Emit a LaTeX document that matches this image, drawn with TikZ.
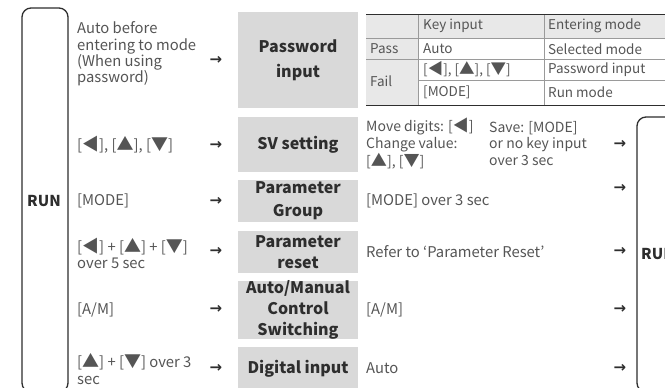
\documentclass[tikz,border=0pt]{standalone}
\usepackage{fontspec}
\setmainfont{Noto Sans CJK KR}
\newfontfamily\arrf{DejaVu Sans}
\newcommand\kL{\scalebox{1.15}{◀}}
\newcommand\kU{\scalebox{1.15}{▲}}
\newcommand\kD{\scalebox{1.15}{▼}}
\definecolor{txt}{HTML}{555555}
\definecolor{dark}{HTML}{2E2E2E}
\definecolor{boxg}{HTML}{D9D9D9}
\definecolor{cellg}{HTML}{E8E8E8}
\definecolor{rulec}{HTML}{9A9A9A}
\begin{document}
\begin{tikzpicture}[x=1pt,y=-1pt,
  body/.style={font=\fontsize{14.8}{16.2}\selectfont, text=txt, inner sep=0pt, align=left},
  tbl/.style={body, font=\fontsize{13.5}{16}\selectfont},
  sml/.style={body, font=\fontsize{14}{16.5}\selectfont},
  gbox/.style={fill=boxg, minimum width=120pt, inner sep=0pt, align=center, text=dark,
    font=\bfseries\fontsize{16}{21}\selectfont},
  arr/.style={font=\arrf\bfseries\fontsize{15}{16}\selectfont, text=dark, inner sep=0pt},
  runbox/.style={draw=dark, line width=1.3pt, rounded corners=9pt, inner sep=0pt},
  runlbl/.style={font=\bfseries\fontsize{15}{18}\selectfont, text=dark, inner sep=0pt},
  toprule/.style={draw=dark, line width=1pt},
  midrule/.style={draw=rulec, line width=0.8pt}]
\useasboundingbox (0,0) rectangle (665,388);
\clip (0,0) rectangle (665,388);
\fill[white] (0,0) rectangle (665,388);

% RUN boxes
\node[runbox, minimum width=46pt, minimum height=384pt] (runL) at (45,200) {};
\node[runlbl] (runLt) at (44,201) {RUN};
\node[runbox, minimum width=63pt, minimum height=275pt] (runR) at (668.5,254.5) {};
\node[runlbl, anchor=west] (runRt) at (641,254) {RUN};

% left conditions
\node[body, anchor=west] (c1) at (77,54) {Auto before\\entering to mode\\(When using\\password)};
\node[body, anchor=west] (c2) at (77,145) {[\kL], [\kU], [\kD]};
\node[body, anchor=west] (c3) at (77,201) {[MODE]};
\node[body, anchor=west] (c4) at (77,253.5) {[\kL] + [\kU] + [\kD]\\over 5 sec};
\node[body, anchor=west] (c5) at (77,310) {[A/M]};
\node[body, anchor=west] (c6) at (77,369) {[\kU] + [\kD] over 3\\sec};

% left arrows
\node[arr] (a1) at (216,60) {→};
\node[arr] (a2) at (216,145) {→};
\node[arr] (a3) at (216,201) {→};
\node[arr] (a4) at (216,251) {→};
\node[arr] (a5) at (216,309) {→};
\node[arr] (a6) at (216,368) {→};

% gray boxes
\node[gbox, minimum height=96pt, font=\bfseries\fontsize{16}{25}\selectfont] (pw) at (298,60) {Password\\input};
\node[gbox, minimum height=55pt] (sv) at (298,144.5) {SV setting};
\node[gbox, minimum height=42pt, font=\bfseries\fontsize{16}{23}\selectfont] (pg) at (298,201) {Parameter\\Group};
\node[gbox, minimum height=42pt] (pr) at (298,252) {Parameter\\reset};
\node[gbox, minimum height=58pt] (am) at (298,310) {Auto/Manual\\Control\\Switching};
\node[gbox, minimum height=44pt] (di) at (298,369) {Digital input};

% table
\fill[cellg] (366,14) rectangle (418,105);
\fill[cellg] (418,14) rectangle (665,38);
\draw[midrule] (418,14) -- (418,105);
\draw[midrule] (544,14) -- (544,105);
\draw[midrule] (366,38) -- (665,38);
\draw[midrule] (366,59) -- (665,59);
\draw[midrule] (418,80) -- (665,80);
\draw[toprule] (366,14) -- (665,14);
\draw[toprule] (366,105) -- (665,105);
\node[tbl, anchor=west] (h2) at (423,26) {Key input};
\node[tbl, anchor=west] (h3) at (548,26) {Entering mode};
\node[tbl, anchor=west] (p1) at (370,49) {Pass};
\node[tbl, anchor=west] (p2) at (423,49) {Auto};
\node[tbl, anchor=west] (p3) at (548,49) {Selected mode};
\node[tbl, anchor=west] (f1) at (370,81) {Fail};
\node[tbl, anchor=west] (f2) at (423,69.5) {[\kL], [\kU], [\kD]};
\node[tbl, anchor=west] (f3) at (548,69.5) {Password input};
\node[tbl, anchor=west] (g2) at (423,92) {[MODE]};
\node[tbl, anchor=west] (g3) at (548,92) {Run mode};

% right descriptions
\node[sml, anchor=west] (d1) at (366,143.5) {Move digits: [\kL]\\Change value:\\{}[\kU], [\kD]};
\node[sml, anchor=west] (d1b) at (489,143.5) {Save: [MODE]\\or no key input\\over 3 sec};
\node[body, anchor=west] (d2) at (366,201) {[MODE] over 3 sec};
\node[body, anchor=west] (d3) at (366,252) {Refer to ‘Parameter Reset’};
\node[body, anchor=west] (d4) at (366,310) {[A/M]};
\node[body, anchor=west] (d5) at (366,368) {Auto};

% right arrows
\node[arr] (b1) at (620,144) {→};
\node[arr] (b2) at (620,188) {→};
\node[arr] (b3) at (620,251) {→};
\node[arr] (b4) at (620,309) {→};
\node[arr] (b5) at (620,368) {→};
\end{tikzpicture}
\end{document}
